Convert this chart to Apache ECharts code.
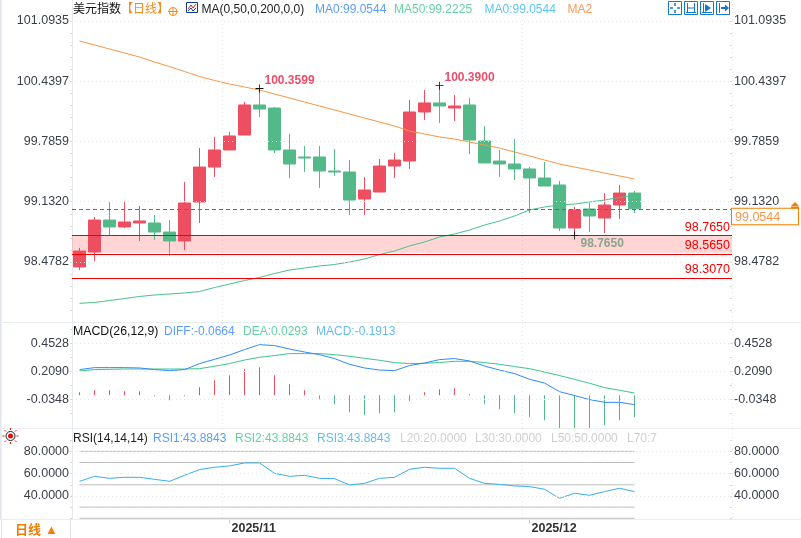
<!DOCTYPE html>
<html>
<head>
<meta charset="utf-8">
<style>
  html, body { margin: 0; padding: 0; background: #fff; }
  #chart { width: 801px; height: 538px; }
</style>
<script src="https://cdn.jsdelivr.net/npm/echarts@6/dist/echarts.min.js"></script>
</head>
<body>
<div id="chart"></div>
<script>
// 6 empty trading days stay on the right of the last candle
const dates = [
  '2025/10/20', '2025/10/21', '2025/10/22', '2025/10/23', '2025/10/24',
  '2025/10/27', '2025/10/28', '2025/10/29', '2025/10/30', '2025/10/31',
  '2025/11/03', '2025/11/04', '2025/11/05', '2025/11/06', '2025/11/07',
  '2025/11/10', '2025/11/11', '2025/11/12', '2025/11/13', '2025/11/14',
  '2025/11/17', '2025/11/18', '2025/11/19', '2025/11/20', '2025/11/21',
  '2025/11/24', '2025/11/25', '2025/11/26', '2025/11/27', '2025/11/28',
  '2025/12/01', '2025/12/02', '2025/12/03', '2025/12/04', '2025/12/05',
  '2025/12/08', '2025/12/09', '2025/12/10',
  '2025/12/11', '2025/12/12', '2025/12/15', '2025/12/16', '2025/12/17', '2025/12/18',
];
const opens = [
  98.424, 98.586, 98.933, 98.858, 98.901, 98.901, 98.803, 98.706, 99.129, 99.508,
  99.693, 99.855, 100.181, 100.148, 99.693, 99.617, 99.617, 99.465, 99.454, 99.161,
  99.237, 99.519, 99.573, 100.105, 100.203, 100.148, 100.181, 99.790, 99.573, 99.541,
  99.487, 99.389, 99.313, 98.847, 99.053, 98.955, 99.096, 99.226,
];
const closes = [
  98.597, 98.933, 98.858, 98.912, 98.923, 98.803, 98.706, 99.118, 99.508, 99.693,
  99.845, 100.181, 100.137, 99.693, 99.541, 99.606, 99.465, 99.454, 99.150, 99.259,
  99.519, 99.584, 100.105, 100.203, 100.170, 100.170, 99.801, 99.552, 99.541, 99.487,
  99.389, 99.302, 98.847, 99.042, 98.977, 99.096, 99.226, 99.0544,
];
const lows = [
  98.391, 98.489, 98.768, 98.847, 98.706, 98.717, 98.546, 98.608, 98.901, 99.400,
  99.693, 99.855, 100.051, 99.660, 99.389, 99.454, 99.281, 99.411, 98.988, 98.988,
  99.237, 99.389, 99.487, 100.018, 99.986, 100.007, 99.649, 99.552, 99.400, 99.367,
  99.009, 99.302, 98.814, 98.765, 98.803, 98.793, 98.944, 99.009,
];
const highs = [
  98.630, 98.966, 99.129, 99.129, 99.085, 98.988, 98.933, 99.346, 99.714, 99.834,
  99.888, 100.213, 100.3599, 100.159, 99.866, 99.736, 99.736, 99.704, 99.584, 99.400,
  99.595, 99.660, 100.235, 100.344, 100.390, 100.289, 100.257, 99.953, 99.693, 99.812,
  99.508, 99.563, 99.357, 99.075, 99.118, 99.226, 99.313, 99.248,
];
const ma200 = [
  100.875, 100.832, 100.788, 100.745, 100.701, 100.647, 100.598, 100.544, 100.490, 100.447,
  100.409, 100.376, 100.343, 100.300, 100.257, 100.213, 100.170, 100.127, 100.083, 100.040,
  99.996, 99.953, 99.899, 99.866, 99.834, 99.812, 99.779, 99.747, 99.714, 99.671,
  99.628, 99.584, 99.541, 99.508, 99.476, 99.443, 99.411, 99.378,
];
const ma50 = [
  98.030, 98.039, 98.060, 98.082, 98.104, 98.120, 98.131, 98.142, 98.158, 98.201,
  98.239, 98.277, 98.310, 98.353, 98.391, 98.413, 98.435, 98.451, 98.478, 98.511,
  98.559, 98.597, 98.652, 98.695, 98.749, 98.782, 98.825, 98.879, 98.923, 98.977,
  99.042, 99.075, 99.096, 99.107, 99.129, 99.150, 99.178, 99.205,
];
const diff = [
  0.224, 0.241, 0.241, 0.241, 0.238, 0.224, 0.215, 0.224, 0.276, 0.313,
  0.351, 0.398, 0.441, 0.433, 0.403, 0.377, 0.354, 0.320, 0.270, 0.238,
  0.220, 0.215, 0.259, 0.281, 0.311, 0.320, 0.299, 0.255, 0.220, 0.189,
  0.139, 0.107, 0.032, -0.002, -0.037, -0.061, -0.061, -0.081,
];
const dea = [
  0.212, 0.224, 0.226, 0.229, 0.229, 0.229, 0.229, 0.229, 0.232, 0.253,
  0.276, 0.307, 0.331, 0.346, 0.363, 0.363, 0.363, 0.354, 0.340, 0.322,
  0.305, 0.285, 0.276, 0.279, 0.285, 0.296, 0.296, 0.285, 0.270, 0.250,
  0.232, 0.203, 0.172, 0.139, 0.105, 0.067, 0.044, 0.020,
];
const macd = [
  0.026, 0.044, 0.044, 0.035, 0.035, -0.009, -0.044, -0.009, 0.070, 0.131,
  0.174, 0.226, 0.244, 0.174, 0.096, 0.044, -0.035, -0.078, -0.148, -0.174,
  -0.157, -0.148, -0.052, 0.026, 0.052, 0.061, 0.009, -0.078, -0.122, -0.157,
  -0.191, -0.218, -0.300, -0.300, -0.300, -0.261, -0.218, -0.1913,
];
const rsi = [
  53.1, 57.6, 55.8, 56.7, 56.7, 54.9, 53.1, 58.5, 63.6, 65.7,
  66.9, 69.6, 69.6, 60.3, 57.6, 58.5, 55.8, 55.5, 49.9, 51.3,
  55.8, 56.7, 63.9, 65.7, 64.8, 64.8, 55.8, 51.3, 50.4, 49.0,
  48.4, 46.0, 37.9, 42.4, 40.6, 43.9, 46.9, 43.88,
];
const rsiLevels = [20, 30, 50, 70, 80];
const priceTicks = [101.0935, 100.4397, 99.7859, 99.1320, 98.4782];
const priceMinorTicks = [
  101.0935, 100.9627, 100.8320, 100.7012, 100.5704, 100.4397, 100.3089, 100.1782, 100.0474,
  99.9166, 99.7859, 99.6551, 99.5243, 99.3936, 99.2628, 99.1320, 99.0013, 98.8705, 98.7397,
  98.6090, 98.4782, 98.3474, 98.2167, 98.0859, 97.9551,
];
const macdTicks = [0.4528, 0.2090, -0.0348];
const macdMinorTicks = [0.5747, 0.4528, 0.3309, 0.2090, 0.0871, -0.0348, -0.1567];
const rsiTicks = [80, 60, 40];
const rsiMinorTicks = [90, 80, 70, 60, 50, 40, 30, 20];
const supportLevels = [98.765, 98.565, 98.307];
const lastPrice = 99.0544;
const monthStarts = [10, 30];

const FONT = '"Liberation Sans", Arial, "Noto Sans CJK SC", sans-serif';
const RED = '#ee4f60';
const GREEN = '#53b988';
const AXIS_TEXT = '#3a3f4c';
const GRID_LINE = '#e6e8ea';

const isMonthStart = (index) => monthStarts.indexOf(index) >= 0;

function makeXAxis(gridIndex, withLabel) {
  return {
    type: 'category',
    gridIndex,
    data: dates,
    boundaryGap: true,
    axisLine: { show: false },
    axisTick: { show: withLabel, interval: isMonthStart, alignWithLabel: true, length: 4, lineStyle: { color: '#ccc' } },
    axisLabel: {
      show: withLabel,
      interval: isMonthStart,
      formatter: (value) => value.slice(0, 7),
      align: 'left',
      margin: 3,
      padding: [0, 0, 0, 2],
      color: '#333',
      fontFamily: FONT,
      fontSize: 12.5,
      fontWeight: 'bold',
    },
    splitLine: { show: true, interval: isMonthStart, lineStyle: { color: GRID_LINE, type: [1, 3] } },
  };
}

function makeYAxis(gridIndex, position, min, max, ticks, minorTicks, digits) {
  return {
    type: 'value',
    gridIndex,
    position,
    min,
    max,
    axisLine: { show: position === 'left', lineStyle: { color: '#e6e9ee' } },
    axisTick: { show: true, customValues: minorTicks, length: 2, inside: position === 'right', lineStyle: { color: '#d8d8d8' } },
    axisLabel: {
      customValues: ticks,
      formatter: (value) => value.toFixed(digits),
      color: AXIS_TEXT,
      fontFamily: FONT,
      fontSize: 12.5,
      margin: position === 'right' ? 2 : 3,
    },
    splitLine: { show: false },
  };
}

// dotted horizontal guide lines, drawn from the tick arrays
function guideSeries(xAxisIndex, yAxisIndex, ticks) {
  return {
    type: 'line',
    xAxisIndex,
    yAxisIndex,
    data: [],
    z: 1,
    silent: true,
    markLine: {
      silent: true,
      symbol: 'none',
      animation: false,
      precision: 4,
      label: { show: false },
      lineStyle: { color: GRID_LINE, type: [1, 3], width: 1 },
      data: ticks.map((value) => ({ yAxis: value })),
    },
  };
}

function lineSeries(xAxisIndex, yAxisIndex, data, color, z) {
  return {
    type: 'line',
    xAxisIndex,
    yAxisIndex,
    data,
    symbol: 'none',
    z: z || 3,
    silent: true,
    lineStyle: { color, width: 1 },
  };
}

function text(x, y, str, color, extra) {
  return {
    type: 'text',
    x,
    y,
    silent: true,
    z: 20,
    style: Object.assign({
      text: str,
      fill: color,
      font: `12px ${FONT}`,
      textVerticalAlign: 'middle',
    }, extra),
  };
}

function seg(x1, y1, x2, y2, color, width) {
  return {
    type: 'line',
    silent: true,
    z: 20,
    shape: { x1, y1, x2, y2 },
    style: { stroke: color, lineWidth: width || 1 },
  };
}

function box(x, y, w, h, stroke, fill) {
  return {
    type: 'rect',
    silent: true,
    z: 20,
    shape: { x, y, width: w, height: h },
    style: { stroke, fill: fill || 'transparent', lineWidth: 1 },
  };
}

function toolIcons() {
  const blue = '#1678c8';
  const items = [684, 700, 716, 668].map((x) => box(x + 0.5, 1.5, 13, 13, blue));
  // crosshair
  items.push(
    seg(670, 8, 673, 8, blue, 1.5), seg(677, 8, 680, 8, blue, 1.5),
    seg(675, 3, 675, 6, blue, 1.5), seg(675, 10, 675, 13, blue, 1.5)
  );
  // zoom range
  items.push(
    seg(687.5, 3, 687.5, 13, blue), seg(694.5, 3, 694.5, 13, blue),
    seg(688, 8, 694, 8, blue), seg(686, 12.5, 696, 12.5, blue)
  );
  // play forward
  items.push(
    seg(703.5, 3, 703.5, 13, blue), seg(702, 12.5, 712, 12.5, blue),
    { type: 'polygon', silent: true, z: 20, shape: { points: [[705, 4], [711, 8], [705, 12]] }, style: { fill: blue } }
  );
  // jump to end
  items.push(
    seg(719.5, 3, 719.5, 13, blue), seg(721, 8, 725, 8, blue, 2),
    { type: 'polygon', silent: true, z: 20, shape: { points: [[725, 4.5], [729, 8], [725, 11.5]] }, style: { fill: blue } }
  );
  return items;
}

function maIcon() {
  return [
    box(186.5, 2.5, 11, 10, '#123a8c'),
    { type: 'polyline', silent: true, z: 20, shape: { points: [[188, 9], [191, 5], [193, 8], [196, 4]] }, style: { stroke: '#e02020', fill: 'transparent' } },
    { type: 'polyline', silent: true, z: 20, shape: { points: [[188, 11], [191, 8], [193, 11], [196, 8]] }, style: { stroke: '#123a8c', fill: 'transparent' } },
  ];
}

function sunIcon() {
  const cx = 10.5;
  const cy = 436;
  const rays = [[0, -8, 0, -6], [0, 6, 0, 8], [-8, 0, -6, 0], [6, 0, 8, 0], [-6, -6, -4.5, -4.5], [4.5, -4.5, 6, -6], [-6, 6, -4.5, 4.5], [4.5, 4.5, 6, 6]];
  return [
    { type: 'circle', silent: true, z: 20, shape: { cx, cy, r: 4.5 }, style: { stroke: '#222', fill: '#fff' } },
    { type: 'circle', silent: true, z: 21, shape: { cx, cy, r: 2.5 }, style: { fill: '#e01010' } },
  ].concat(rays.map((r) => seg(cx + r[0], cy + r[1], cx + r[2], cy + r[3], '#e01010')));
}

const graphics = [
  { type: 'rect', silent: true, z: 10, shape: { x: 0, y: 0, width: 1.5, height: 520 }, style: { fill: '#e2e4ef' } },
  seg(0, 322.5, 801, 322.5, '#e8eeee'),
  seg(0, 428.5, 801, 428.5, '#e8eeee'),
  seg(0, 519.5, 801, 519.5, '#e8eeee'),
  seg(70.5, 519.5, 70.5, 538, '#e0e3ea'),
  seg(1.5, 519.5, 1.5, 538, '#e0e3ea'),
  text(73, 10, '美元指数', '#111'),
  text(121, 10, '【日线】', '#f28c1e'),
  { type: 'circle', silent: true, z: 20, shape: { cx: 173, cy: 11.5, r: 4 }, style: { stroke: '#f28c1e', fill: 'transparent' } },
  seg(168, 11.5, 178, 11.5, '#f28c1e'),
  seg(173, 7, 173, 16, '#f28c1e'),
  text(201.5, 10, 'MA(0,50,0,200,0,0)', '#222'),
  text(315, 10, 'MA0:99.0544', '#5b9dff'),
  text(394, 10, 'MA50:99.2225', '#66d2a4'),
  text(484.5, 10, 'MA0:99.0544', '#5cc6f2'),
  text(567.5, 10, 'MA2', '#fb9a55'),
  text(73, 332, 'MACD(26,12,9)', '#111', { font: `12.3px ${FONT}` }),
  text(164, 332, 'DIFF:-0.0664', '#5b9dff'),
  text(243, 332, 'DEA:0.0293', '#66d2a4'),
  text(316, 332, 'MACD:-0.1913', '#66bcf0'),
  text(73, 439, 'RSI(14,14,14)', '#222'),
  text(153, 439, 'RSI1:43.8843', '#5b9dff'),
  text(235, 439, 'RSI2:43.8843', '#66d2a4'),
  text(317, 439, 'RSI3:43.8843', '#66bcf0'),
  text(400, 439, 'L20:20.0000', '#cfcfcf'),
  text(475, 439, 'L30:30.0000', '#cfcfcf'),
  text(551, 439, 'L50:50.0000', '#cfcfcf'),
  text(627, 439, 'L70:7', '#cfcfcf'),
  text(15, 530, '日线', '#f57c00', { font: `bold 13px ${FONT}` }),
  text(45, 530, '▲', '#f57c00', { font: `13px ${FONT}` }),
  { type: 'polygon', silent: true, z: 20, shape: { points: [[791, 206], [795, 202], [799, 206]] }, style: { fill: '#f57c00' } },
  { type: 'rect', silent: true, z: 20, shape: { x: 791, y: 206.5, width: 8, height: 2 }, style: { fill: '#f57c00' } },
].concat(toolIcons(), maIcon(), sunIcon());

const plusSymbol = 'path://M0 4.5H10V5.5H0ZM4.5 0H5.5V10H4.5Z';

const option = {
  animation: false,
  backgroundColor: '#fff',
  textStyle: { fontFamily: FONT },
  graphic: graphics,
  grid: [
    { left: 72, right: 69, top: 0, height: 322.3 },
    { left: 72, right: 69, top: 323, height: 105 },
    { left: 72, right: 69, top: 429, height: 90.5 },
  ],
  xAxis: [makeXAxis(0, false), makeXAxis(1, false), makeXAxis(2, true)],
  yAxis: [
    makeYAxis(0, 'left', 97.824, 101.3196, priceTicks, priceMinorTicks, 4),
    makeYAxis(0, 'right', 97.824, 101.3196, priceTicks, priceMinorTicks, 4),
    makeYAxis(1, 'left', -0.2846, 0.6295, macdTicks, macdMinorTicks, 4),
    makeYAxis(1, 'right', -0.2846, 0.6295, macdTicks, macdMinorTicks, 4),
    makeYAxis(2, 'left', 18.9, 100, rsiTicks, rsiMinorTicks, 4),
    makeYAxis(2, 'right', 18.9, 100, rsiTicks, rsiMinorTicks, 4),
  ],
  series: [
    guideSeries(0, 0, priceTicks),
    guideSeries(1, 2, macdTicks),
    guideSeries(2, 4, rsiTicks),
    {
      type: 'candlestick',
      xAxisIndex: 0,
      yAxisIndex: 0,
      barWidth: 13,
      z: 2,
      silent: true,
      data: opens.map((open, i) => [open, closes[i], lows[i], highs[i]]),
      itemStyle: { color: RED, color0: GREEN, borderColor: RED, borderColor0: GREEN, borderWidth: 1 },
      markPoint: {
        silent: true,
        animation: false,
        symbol: plusSymbol,
        symbolSize: 8,
        itemStyle: { color: '#111' },
        label: { position: 'right', distance: 1, fontFamily: FONT, fontSize: 12, fontWeight: 'bold', formatter: '{c}' },
        data: [
          { coord: [12, highs[12]], value: '100.3599', label: { color: '#ee4d6a', offset: [0, -8] } },
          { coord: [24, highs[24]], value: '100.3900', label: { color: '#ee4d6a', offset: [0, -8] } },
          { coord: [33, lows[33]], value: '98.7650', label: { color: '#8aa58a', offset: [1, 8] } },
        ],
      },
    },
    lineSeries(0, 0, ma200, '#f79646', 4),
    lineSeries(0, 0, ma50, '#4cc08a', 4),
    {
      // support band sits over the candles with alpha, the levels over it
      type: 'line',
      xAxisIndex: 0,
      yAxisIndex: 0,
      data: [],
      z: 5,
      silent: true,
      markArea: {
        silent: true,
        animation: false,
        itemStyle: { color: 'rgba(255,0,0,0.165)' },
        data: [[{ yAxis: supportLevels[0] }, { yAxis: supportLevels[1] + 0.014 }]],
      },
      markLine: {
        silent: true,
        animation: false,
        symbol: 'none',
        precision: 4,
        lineStyle: { color: '#f00000', width: 1, type: 'solid' },
        label: {
          position: 'insideEndTop',
          distance: 2,
          color: '#f00000',
          fontFamily: FONT,
          fontSize: 12.5,
          formatter: (params) => params.value.toFixed(4),
        },
        data: supportLevels.map((value) => ({ yAxis: value })),
      },
    },
    {
      type: 'line',
      xAxisIndex: 0,
      yAxisIndex: 0,
      data: [],
      z: 6,
      silent: true,
      markLine: {
        silent: true,
        animation: false,
        symbol: 'none',
        precision: 4,
        lineStyle: { color: '#1a7fe0', width: 1, type: [4, 3] },
        label: {
          position: 'end',
          distance: 0,
          align: 'left',
          verticalAlign: 'top',
          width: 63,
          padding: [2, 0, 1, 3],
          backgroundColor: '#fff',
          borderColor: '#f57c00',
          borderWidth: 1,
          color: '#f79646',
          fontFamily: FONT,
          fontSize: 12.5,
          formatter: (params) => params.value.toFixed(4),
        },
        data: [{ yAxis: lastPrice }],
      },
    },
    {
      type: 'bar',
      xAxisIndex: 1,
      yAxisIndex: 2,
      barWidth: 1,
      z: 2,
      silent: true,
      data: macd,
      itemStyle: { color: (params) => (params.value >= 0 ? RED : GREEN) },
    },
    lineSeries(1, 2, dea, '#3fc48a', 3),
    lineSeries(1, 2, diff, '#2f8cf5', 4),
  ].concat(
    rsiLevels.map((level) => lineSeries(2, 4, closes.map(() => level), '#bdbdbd', 2)),
    [lineSeries(2, 4, rsi, '#35b0e8', 3)]
  ),
};

const chart = echarts.init(document.getElementById('chart'));
chart.setOption(option);
</script>
</body>
</html>
